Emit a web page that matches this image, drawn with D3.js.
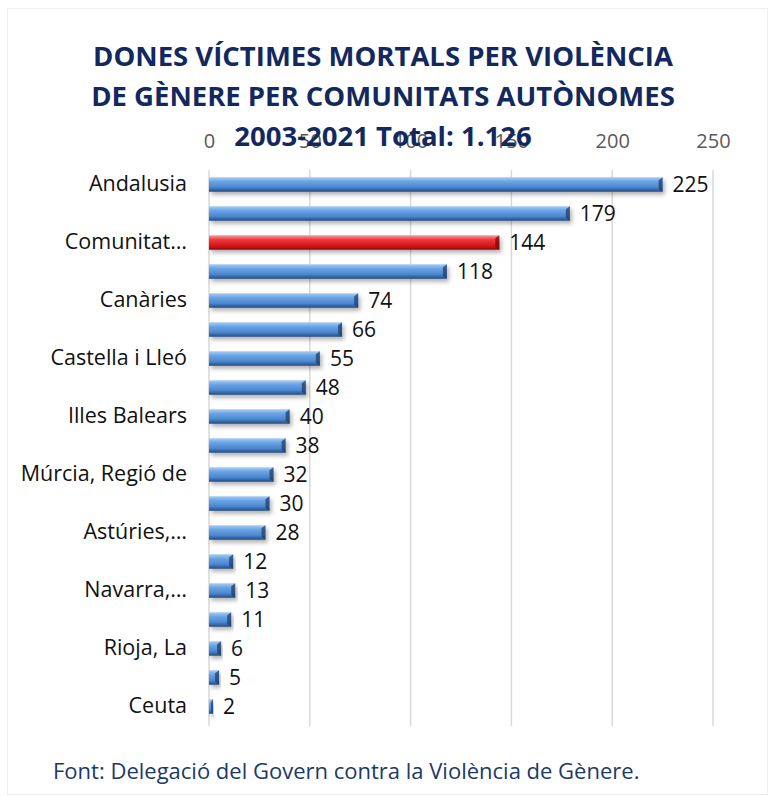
<!DOCTYPE html>
<html>
<head>
<meta charset="utf-8">
<script src="https://cdn.jsdelivr.net/npm/d3@7"></script>
<style>
  body { margin: 0; background: #fff; }
  text { font-family: "Open Sans", "Noto Sans", sans-serif; }
</style>
</head>
<body>
<div id="chart"></div>
<script>
// data
var regions = ["Andalusia", "Catalunya", "Comunitat Valenciana", "Madrid, Comunitat de", "Canàries",
  "Galícia", "Castella i Lleó", "Castella-La Manxa", "Illes Balears", "País Basc",
  "Múrcia, Regió de", "Aragó", "Astúries, Principat d'", "Cantàbria", "Navarra, Comunitat Foral de",
  "Extremadura", "Rioja, La", "Melilla", "Ceuta"];
// labels as the picture shows them (every other one, long ones cut)
var shownLabels = ["Andalusia", "", "Comunitat…", "", "Canàries", "", "Castella i Lleó", "",
  "Illes Balears", "", "Múrcia, Regió de", "", "Astúries,…", "", "Navarra,…", "", "Rioja, La", "", "Ceuta"];
var victims = [225, 179, 144, 118, 74, 66, 55, 48, 40, 38, 32, 30, 28, 12, 13, 11, 6, 5, 2];
var highlight = "Comunitat Valenciana";
var xTicks = [0, 50, 100, 150, 200, 250];
var titleLines = ["DONES VÍCTIMES MORTALS PER VIOLÈNCIA", "DE GÈNERE PER COMUNITATS AUTÒNOMES", "2003-2021 Total: 1.126"];
var source = "Font: Delegació del Govern contra la Violència de Gènere.";

var W = 768, H = 796;
var margin = {top: 170, right: 53, bottom: 75, left: 209};
var width = W - margin.left - margin.right;
var height = H - margin.top - margin.bottom;

var svg = d3.select("#chart").append("svg")
  .attr("width", W)
  .attr("height", H);

// faint frame
svg.append("rect")
  .attr("x", 7.5).attr("y", 8.5)
  .attr("width", W - 8).attr("height", H - 10)
  .attr("fill", "none").attr("stroke", "#f0f0f0");

var defs = svg.append("defs");
function bevel(id, c1, c2, c3, c4) {
  var g = defs.append("linearGradient").attr("id", id)
    .attr("x1", 0).attr("y1", 0).attr("x2", 0).attr("y2", 1);
  g.append("stop").attr("offset", "0%").attr("stop-color", c1);
  g.append("stop").attr("offset", "30%").attr("stop-color", c2);
  g.append("stop").attr("offset", "70%").attr("stop-color", c3);
  g.append("stop").attr("offset", "100%").attr("stop-color", c4);
}
bevel("gBlue", "#a9cdf3", "#6aa3e4", "#4a86cf", "#23497e");
bevel("gRed", "#f6a0a0", "#ec3a3a", "#d81818", "#8a0c0c");
var shadow = defs.append("filter").attr("id", "shadow")
  .attr("x", "-5%").attr("y", "-30%").attr("width", "115%").attr("height", "180%");
shadow.append("feDropShadow").attr("dx", 2).attr("dy", 3).attr("stdDeviation", 2)
  .attr("flood-color", "#000").attr("flood-opacity", 0.3);

var g = svg.append("g")
  .attr("transform", "translate(" + margin.left + "," + margin.top + ")");

var x = d3.scaleLinear().domain([0, 250]).range([0, width - 2]);
var y = d3.scaleBand().domain(regions).range([0, height]).paddingInner(0.5).paddingOuter(0.25);

// grid
g.selectAll("line.grid")
  .data(xTicks)
  .enter()
  .append("line")
  .attr("class", "grid")
  .attr("x1", function(d) { return x(d); })
  .attr("x2", function(d) { return x(d); })
  .attr("y1", 0)
  .attr("y2", height + 5)
  .attr("stroke", "#d9d9d9")
  .attr("stroke-width", 1.5);

// top axis
var xAxis = d3.axisTop(x).tickValues(xTicks).tickSize(0).tickPadding(0);
var ax = g.append("g")
  .attr("transform", "translate(0,-22)")
  .call(xAxis);
ax.select(".domain").remove();
ax.selectAll("text")
  .style("font-size", "20px")
  .attr("fill", "#595959")
  .attr("font-family", "Open Sans, sans-serif");

// category labels
var yAxis = d3.axisLeft(y).tickSize(0).tickPadding(22)
  .tickFormat(function(d, i) { return shownLabels[i]; });
var ay = g.append("g").call(yAxis);
ay.select(".domain").remove();
ay.selectAll("text")
  .style("font-size", "21.5px")
  .attr("fill", "#111")
  .attr("font-family", "Open Sans, sans-serif");

var rows = regions.map(function(r, i) { return {name: r, value: victims[i]}; });

// bars
var bars = g.selectAll("g.bar")
  .data(rows)
  .enter()
  .append("g")
  .attr("class", "bar")
  .attr("filter", "url(#shadow)");

bars.append("rect")
  .attr("x", 0)
  .attr("y", function(d) { return y(d.name); })
  .attr("width", function(d) { return x(d.value); })
  .attr("height", y.bandwidth())
  .attr("fill", function(d) { return d.name == highlight ? "url(#gRed)" : "url(#gBlue)"; });

// bevelled right end
bars.append("path")
  .attr("d", function(d) {
    var x1 = x(d.value), y0 = y(d.name), h = y.bandwidth();
    var b = Math.min(4, x1 / 2);
    return "M" + x1 + "," + y0 + "L" + (x1 - b) + "," + (y0 + 3) + "L" + (x1 - b) + "," + (y0 + h - 3) +
      "L" + x1 + "," + (y0 + h) + "Z";
  })
  .attr("fill", function(d) { return d.name == highlight ? "#7a0a0a" : "#1d3f6e"; })
  .attr("opacity", 0.75);

// value labels
g.selectAll("text.val")
  .data(rows)
  .enter()
  .append("text")
  .attr("class", "val")
  .attr("x", function(d) { return x(d.value) + 10; })
  .attr("y", function(d) { return y(d.name) + y.bandwidth() / 2; })
  .attr("dy", "0.36em")
  .style("font-size", "21px")
  .attr("fill", "#111")
  .text(function(d) { return d.value; });

// title
svg.selectAll("text.title")
  .data(titleLines)
  .enter()
  .append("text")
  .attr("class", "title")
  .attr("x", 383)
  .attr("y", function(d, i) { return 66 + i * 40; })
  .attr("text-anchor", "middle")
  .style("font-size", "27.5px")
  .attr("font-weight", "bold")
  .attr("font-family", "Lato, sans-serif")
  .attr("fill", "#13295e")
  .text(function(d) { return d; });

// source
svg.append("text")
  .attr("x", 53)
  .attr("y", 779)
  .style("font-size", "22px")
  .attr("fill", "#1b3a66")
  .text(source);
</script>
</body>
</html>
